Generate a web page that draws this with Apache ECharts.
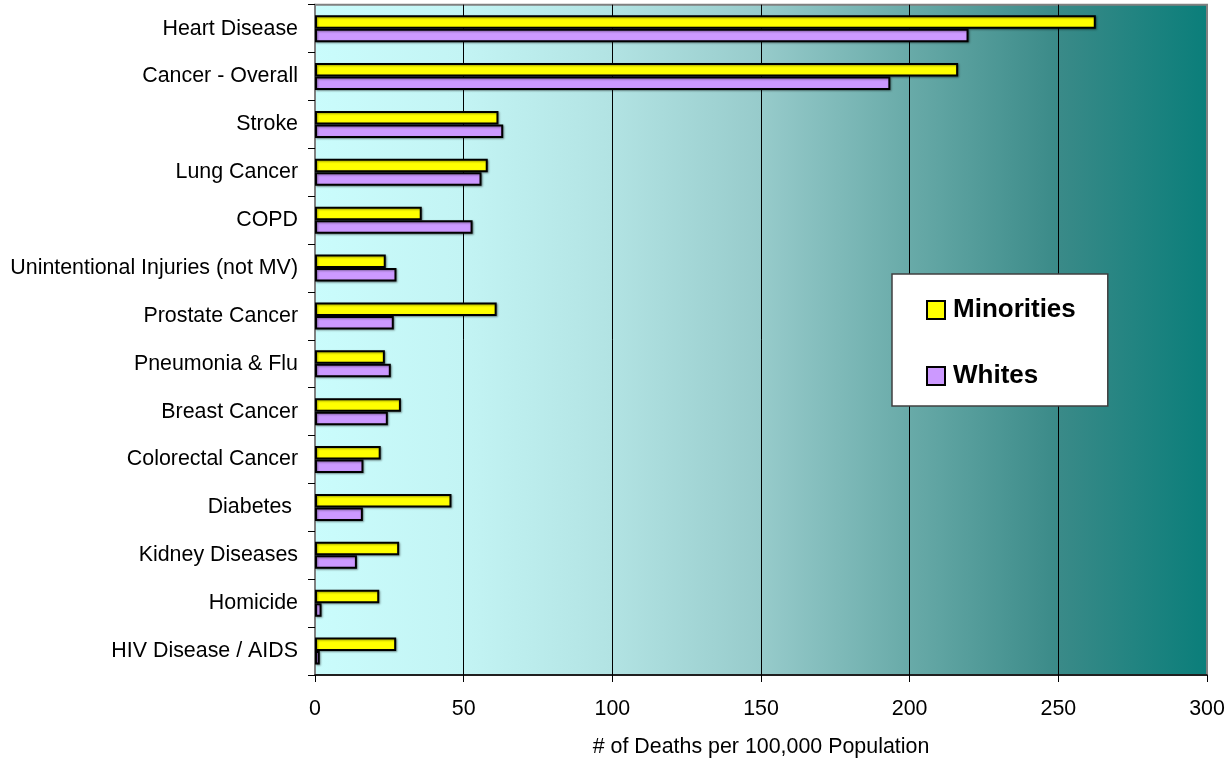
<!DOCTYPE html>
<html><head><meta charset="utf-8">
<script src="https://cdn.jsdelivr.net/npm/echarts@6/dist/echarts.min.js"></script>
<style>html,body{margin:0;padding:0;background:#fff}#c{width:1230px;height:763px}</style>
</head><body><div id="c"></div>
<script>
const categories = ['Heart Disease','Cancer - Overall','Stroke','Lung Cancer','COPD','Unintentional Injuries (not MV)','Prostate Cancer','Pneumonia & Flu','Breast Cancer','Colorectal Cancer','Diabetes ','Kidney Diseases','Homicide','HIV Disease / AIDS'];
const minorities = [262.6, 216.3, 61.7, 58.1, 35.9, 23.8, 61.1, 23.5, 28.9, 22.1, 45.9, 28.3, 21.6, 27.3];
const whites = [219.8, 193.5, 63.3, 56.0, 53.0, 27.4, 26.5, 25.5, 24.5, 16.3, 16.1, 14.1, 2.2, 1.6];
const seriesNames = ['Minorities', 'Whites'];
const xMin = 0, xMax = 300, xStep = 50;
const xTitle = '# of Deaths per 100,000 Population';

const FONT = '"Liberation Sans", Arial, sans-serif';
const chart = echarts.init(document.getElementById('c'), null, {renderer: 'canvas'});
const barStyle = (color) => ({
  color: color, borderColor: '#000', borderWidth: 2,
  shadowColor: 'rgba(0,0,0,0.35)', shadowBlur: 2, shadowOffsetX: 1, shadowOffsetY: 1
});
chart.setOption({
  animation: false,
  textStyle: {fontFamily: FONT},
  grid: {
    left: 315, top: 4.7, width: 892, height: 676,
    show: true, borderColor: '#808080', borderWidth: 2,
    backgroundColor: {
      type: 'linear', x: 0, y: 0, x2: 1, y2: 0,
      colorStops: [
        {offset: 0, color: '#CAFCFC'},
        {offset: 0.167, color: '#C3F4F4'},
        {offset: 0.333, color: '#B2E3E3'},
        {offset: 0.5, color: '#97CBCB'},
        {offset: 0.667, color: '#68AAA8'},
        {offset: 0.833, color: '#3A8A88'},
        {offset: 1, color: '#0A7E7A'}
      ]
    }
  },
  legend: {
    orient: 'vertical', left: 892, top: 274,
    padding: [23, 32, 17, 34], itemGap: 40, itemWidth: 18, itemHeight: 18,
    backgroundColor: '#fff', borderColor: '#404040', borderWidth: 1.5,
    icon: 'rect',
    itemStyle: {borderColor: '#000', borderWidth: 2},
    textStyle: {fontSize: 26, fontWeight: 'bold', color: '#000', fontFamily: FONT, padding: [0, 0, 0, 3]},
    data: seriesNames
  },
  xAxis: {
    type: 'value', min: xMin, max: xMax, interval: xStep,
    axisLine: {show: true, lineStyle: {color: '#000', width: 1.5}},
    axisTick: {show: true, length: 7, lineStyle: {color: '#000'}},
    axisLabel: {fontSize: 21.4, color: '#000', margin: 24, fontFamily: FONT},
    splitLine: {show: true, showMinLine: false, showMaxLine: false, lineStyle: {color: '#000', width: 1}},
    name: xTitle, nameLocation: 'middle', nameGap: 62,
    nameTextStyle: {fontSize: 21.4, color: '#000', fontFamily: FONT}
  },
  yAxis: {
    type: 'category', inverse: true, data: categories,
    axisLine: {show: true, lineStyle: {color: '#808080', width: 2}},
    axisTick: {show: true, length: 7, lineStyle: {color: '#000'}},
    axisLabel: {fontSize: 21.4, color: '#000', margin: 17, fontFamily: FONT},
    splitLine: {show: false}
  },
  series: [
    {name: seriesNames[0], type: 'bar', data: minorities, barWidth: 13.5, barGap: '0%', itemStyle: barStyle('#FFFF00')},
    {name: seriesNames[1], type: 'bar', data: whites, barWidth: 13.5, barGap: '0%', itemStyle: barStyle('#CC99FF')}
  ]
});
</script></body></html>
